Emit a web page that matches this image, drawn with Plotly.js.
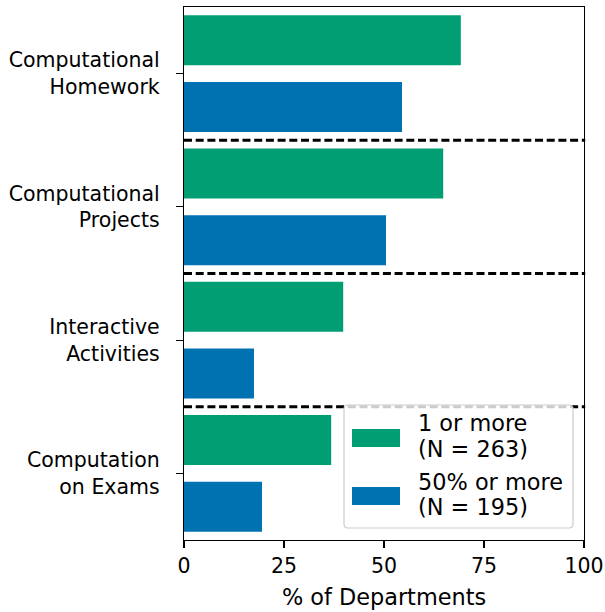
<!DOCTYPE html>
<html>
<head>
<meta charset="utf-8">
<script src="https://cdn.plot.ly/plotly-3.0.1.min.js"></script>
<style>html,body{margin:0;padding:0;background:#fff;}#chart{width:605px;height:612px;}</style>
</head>
<body>
<div id="chart"></div>
<script>
const categories = ["Computational<br>Homework", "Computational<br>Projects", "Interactive<br>Activities", "Computation<br>on Exams"];
const oneOrMore = [69.2, 64.8, 39.8, 36.8];
const fiftyOrMore = [54.5, 50.5, 17.5, 19.5];
const seriesNames = ["1 or more<br>(N = 263)", "50% or more<br>(N = 195)"];
const seriesColors = ["#029E73", "#0072B2"];
const xTicks = [0, 25, 50, 75, 100];

const FAM = "DejaVu Sans, sans-serif";
const tickFont = {family: FAM, size: 20.5, color: "#000"};
const bigFont = {family: FAM, size: 22.4, color: "#000"};

const traces = [
  {type: "bar", orientation: "h", name: seriesNames[0], y: categories, x: oneOrMore,
   marker: {color: seriesColors[0]}, width: 0.375, offset: -0.4375, hoverinfo: "x"},
  {type: "bar", orientation: "h", name: seriesNames[1], y: categories, x: fiftyOrMore,
   marker: {color: seriesColors[1]}, width: 0.375, offset: 0.0625, hoverinfo: "x"}
];

const shapes = [0.5, 1.5, 2.5].map(v => ({
  type: "line", xref: "paper", yref: "y", x0: 0, x1: 1.003, y0: v, y1: v,
  line: {color: "#000", width: 3, dash: "8px,3.7px"}, layer: "below"
}));

// Legend (drawn in pixel-derived paper coordinates of the plot area: 400 x 533 px)
const PW = 400, PH = 533;
const px = v => v / PW, py = v => v / PH;
const boxL = px(344 - 184), boxR = px(573 - 184), boxB = py(540 - 528), boxT = py(540 - 405);
const rx = px(4), ry = py(4);
shapes.push({
  type: "path", xref: "paper", yref: "paper", layer: "above",
  path: `M${boxL + rx},${boxB} L${boxR - rx},${boxB} Q${boxR},${boxB} ${boxR},${boxB + ry} ` +
        `L${boxR},${boxT - ry} Q${boxR},${boxT} ${boxR - rx},${boxT} L${boxL + rx},${boxT} ` +
        `Q${boxL},${boxT} ${boxL},${boxT - ry} L${boxL},${boxB + ry} Q${boxL},${boxB} ${boxL + rx},${boxB} Z`,
  fillcolor: "rgba(255,255,255,0.8)", line: {color: "#cccccc", width: 1.2}
});
const swatchCenters = [438, 496];
const textCenters = [[423, 449], [482, 507]];
const annotations = [];
seriesNames.forEach((name, i) => {
  const c = swatchCenters[i];
  shapes.push({
    type: "rect", xref: "paper", yref: "paper", layer: "above",
    x0: px(352 - 184), x1: px(400 - 184), y0: py(540 - (c + 9)), y1: py(540 - (c - 9)),
    fillcolor: seriesColors[i], line: {width: 0}
  });
  name.split("<br>").forEach((line, j) => {
    annotations.push({
      xref: "paper", yref: "paper", x: px(416 - 184), y: py(540 - textCenters[i][j]),
      xanchor: "left", yanchor: "middle", text: line, showarrow: false, font: bigFont
    });
  });
});

const layout = {
  width: 605, height: 612,
  margin: {l: 184, r: 21, t: 7, b: 72},
  paper_bgcolor: "#fff", plot_bgcolor: "#fff",
  font: tickFont,
  barmode: "overlay",
  showlegend: false,
  xaxis: {
    range: [0, 100], tickvals: xTicks, ticktext: xTicks.map(String),
    showgrid: false, zeroline: false,
    showline: true, linecolor: "#000", linewidth: 1.2, mirror: true,
    ticks: "outside", ticklen: 7, tickwidth: 1.2, tickcolor: "#000",
    tickfont: tickFont,
    title: {text: "% of Departments", font: bigFont, standoff: 12}
  },
  yaxis: {
    type: "category", range: [3.5, -0.5],
    showgrid: false, zeroline: false,
    showline: true, linecolor: "#000", linewidth: 1.2, mirror: true,
    ticks: "outside", ticklen: 7, tickwidth: 1.2, tickcolor: "#000",
    tickfont: tickFont,
    ticklabelstandoff: 12
  },
  shapes: shapes,
  annotations: annotations
};

Plotly.newPlot("chart", traces, layout, {displayModeBar: false, staticPlot: true});
</script>
</body>
</html>
